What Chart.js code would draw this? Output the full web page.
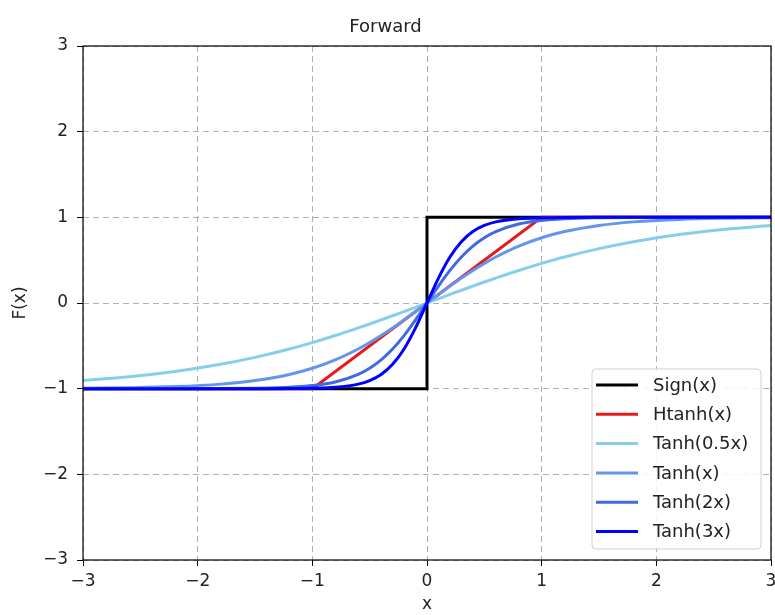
<!DOCTYPE html>
<html>
<head>
<meta charset="utf-8">
<script src="https://cdn.jsdelivr.net/npm/chart.js"></script>
<style>
  html, body { margin: 0; padding: 0; background: #fff; }
  #wrap { width: 775px; height: 615px; }
</style>
</head>
<body>
<div id="wrap"><canvas id="c" width="775" height="615"></canvas></div>
<script>
// sample positions along x
const xs = [-3, -2.6, -2.2, -1.8, -1.5, -1.2, -1, -0.8, -0.6, -0.5, -0.4, -0.3, -0.2, -0.1, 0,
  0.1, 0.2, 0.3, 0.4, 0.5, 0.6, 0.8, 1, 1.2, 1.5, 1.8, 2.2, 2.6, 3];

// step and hard curves
const signX = [-3, 0, 0, 3];
const signY = [-1, -1, 1, 1];
const htanhX = [-3, -1, 1, 3];
const htanhY = [-1, -1, 1, 1];

// smooth curves
const tanhHalf = [-0.905, -0.862, -0.800, -0.716, -0.635, -0.537, -0.462, -0.380, -0.291, -0.245, -0.197, -0.149, -0.100, -0.050, 0,
  0.050, 0.100, 0.149, 0.197, 0.245, 0.291, 0.380, 0.462, 0.537, 0.635, 0.716, 0.800, 0.862, 0.905];
const tanh1 = [-0.995, -0.989, -0.976, -0.947, -0.905, -0.834, -0.762, -0.664, -0.537, -0.462, -0.380, -0.291, -0.197, -0.100, 0,
  0.100, 0.197, 0.291, 0.380, 0.462, 0.537, 0.664, 0.762, 0.834, 0.905, 0.947, 0.976, 0.989, 0.995];
const tanh2 = [-1, -1, -1, -0.999, -0.995, -0.984, -0.964, -0.922, -0.834, -0.762, -0.664, -0.537, -0.380, -0.197, 0,
  0.197, 0.380, 0.537, 0.664, 0.762, 0.834, 0.922, 0.964, 0.984, 0.995, 0.999, 1, 1, 1];
const tanh3 = [-1, -1, -1, -1, -1, -0.999, -0.995, -0.984, -0.947, -0.905, -0.834, -0.716, -0.537, -0.291, 0,
  0.291, 0.537, 0.716, 0.834, 0.905, 0.947, 0.984, 0.995, 0.999, 1, 1, 1, 1, 1];

const tickVals = [-3, -2, -1, 0, 1, 2, 3];

const FONT = "'DejaVu Sans', sans-serif";

const pts = (xv, yv) => xv.map((x, i) => ({ x, y: yv[i] }));

const series = [
  { label: "Sign(x)", data: pts(signX, signY), color: "#000000", smooth: false },
  { label: "Htanh(x)", data: pts(htanhX, htanhY), color: "#e8191b", smooth: false },
  { label: "Tanh(0.5x)", data: pts(xs, tanhHalf), color: "#87ceeb", smooth: true },
  { label: "Tanh(x)", data: pts(xs, tanh1), color: "#6495ed", smooth: true },
  { label: "Tanh(2x)", data: pts(xs, tanh2), color: "#4169e1", smooth: true },
  { label: "Tanh(3x)", data: pts(xs, tanh3), color: "#0000ff", smooth: true },
];

const minus = v => String(v).replace("-", "\u2212");

// spines on all four sides
const frame = {
  id: "frame",
  afterDatasetsDraw(chart) {
    const { ctx, chartArea: a } = chart;
    ctx.save();
    ctx.strokeStyle = "#000";
    ctx.lineWidth = 1.2;
    ctx.strokeRect(a.left, a.top, a.right - a.left, a.bottom - a.top);
    ctx.restore();
  }
};

// boxed legend in the lower right corner
const boxLegend = {
  id: "boxLegend",
  afterDraw(chart) {
    const { ctx, chartArea: a } = chart;
    const w = 169, h = 180;
    const x0 = a.right - 179, y0 = a.bottom - 191;
    ctx.save();
    ctx.fillStyle = "rgba(255,255,255,0.85)";
    ctx.strokeStyle = "#d0d0d0";
    ctx.lineWidth = 1;
    ctx.beginPath();
    ctx.roundRect(x0, y0, w, h, 4);
    ctx.fill();
    ctx.stroke();
    ctx.font = "18px " + FONT;
    ctx.textBaseline = "middle";
    ctx.fillStyle = "#222";
    chart.data.datasets.forEach((ds, i) => {
      const y = y0 + 16 + i * 29.3;
      ctx.strokeStyle = ds.borderColor;
      ctx.lineWidth = 3;
      ctx.beginPath();
      ctx.moveTo(x0 + 4, y);
      ctx.lineTo(x0 + 46, y);
      ctx.stroke();
      ctx.fillText(ds.label, x0 + 61, y + 1);
    });
    ctx.restore();
  }
};

new Chart(document.getElementById("c"), {
  type: "line",
  data: {
    datasets: series.map((s, i) => ({
      label: s.label,
      data: s.data,
      borderColor: s.color,
      backgroundColor: s.color,
      borderWidth: 3,
      pointRadius: 0,
      tension: s.smooth ? 0.4 : 0,
      cubicInterpolationMode: s.smooth ? "monotone" : "default",
      order: series.length - i,
    })),
  },
  options: {
    responsive: false,
    animation: false,
    layout: { padding: { top: 0, right: 4, bottom: 0, left: 0 } },
    plugins: {
      legend: { display: false },
      tooltip: { enabled: false },
      title: {
        display: true,
        text: "Forward",
        color: "#222",
        font: { family: FONT, size: 18, weight: "normal", lineHeight: 1.0 },
        padding: { top: 18, bottom: 10 },
      },
    },
    scales: {
      x: {
        type: "linear",
        min: -3,
        max: 3,
        afterBuildTicks: s => { s.ticks = tickVals.map(v => ({ value: v })); },
        afterFit: s => { s.height = 55; s.paddingLeft = 0; s.paddingRight = 0; },
        ticks: {
          color: "#222",
          font: { family: FONT, size: 17 },
          padding: 5,
          maxRotation: 0,
          callback: v => minus(v),
        },
        grid: { color: "#b0b0b0", lineWidth: 1, tickLength: 6, tickColor: "#000", tickBorderDash: [], drawOnChartArea: true },
        border: { display: false, dash: [6, 4] },
        title: {
          display: true,
          text: "x",
          color: "#222",
          font: { family: FONT, size: 17 },
          padding: { top: 0, bottom: 0 },
        },
      },
      y: {
        type: "linear",
        min: -3,
        max: 3,
        afterBuildTicks: s => { s.ticks = tickVals.map(v => ({ value: v })); },
        afterFit: s => { s.width = 83; s.paddingTop = 0; s.paddingBottom = 0; },
        ticks: {
          color: "#222",
          font: { family: FONT, size: 17 },
          padding: 9,
          callback: v => minus(v),
        },
        grid: { color: "#b0b0b0", lineWidth: 1, tickLength: 6, tickColor: "#000", tickBorderDash: [] },
        border: { display: false, dash: [6, 4] },
        title: {
          display: true,
          text: "F(x)",
          color: "#222",
          font: { family: FONT, size: 17 },
          padding: { top: 10, bottom: 0 },
        },
      },
    },
  },
  plugins: [frame, boxLegend],
});
</script>
</body>
</html>
